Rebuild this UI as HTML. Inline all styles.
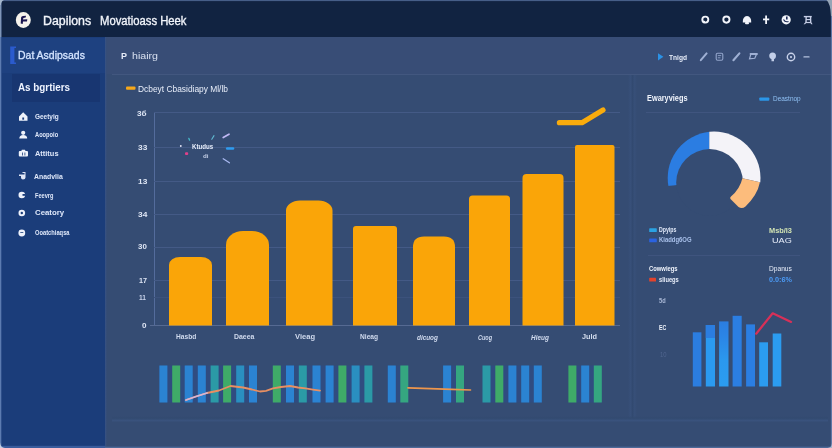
<!DOCTYPE html>
<html>
<head>
<meta charset="utf-8">
<style>
html,body{margin:0;padding:0;}
body{width:832px;height:448px;overflow:hidden;background:#354c73;font-family:"Liberation Sans",sans-serif;position:relative;}
.abs{position:absolute;}
.t{position:absolute;white-space:nowrap;color:#e8eefa;transform-origin:0 50%;filter:blur(0.35px);}
svg{filter:blur(0.4px);}
#hdr{left:0;top:0;width:832px;height:37px;background:#112341;}
#side{left:0;top:37px;width:105px;height:411px;background:#1b3d7a;}
#main{left:105px;top:37px;width:727px;height:411px;background:#354c73;}
</style>
</head>
<body>
<div id="hdr" class="abs"></div>
<div id="side" class="abs"></div>
<div id="main" class="abs"></div>

<!-- toolbar row -->
<div class="abs" style="left:105px;top:37px;width:727px;height:37px;background:#384d76;"></div>
<div class="abs" style="left:112px;top:73.5px;width:720px;height:1px;background:#42577f;"></div>
<div class="abs" style="left:628px;top:75px;width:9px;height:346px;background:linear-gradient(90deg,rgba(58,84,128,0),#3a537f 30%,#30486f 48%,#30486f 54%,#39527d 70%,rgba(57,82,125,0));opacity:.55"></div>
<div class="abs" style="left:112px;top:416px;width:716px;height:6px;background:linear-gradient(180deg,rgba(50,74,112,0),#324a70 35%,#3a537e 80%,rgba(58,83,126,0));"></div>

<div class="abs" style="left:105px;top:37px;width:2px;height:411px;background:linear-gradient(90deg,#37538a,#354c73);opacity:.8"></div>
<!-- sidebar blocks -->
<div class="abs" style="left:2px;top:38px;width:103px;height:35px;background:#1e4180;"></div>
<div class="abs" style="left:12px;top:74px;width:88px;height:28px;background:#183671;"></div>

<svg class="abs" style="left:0;top:0" width="832" height="448" viewBox="0 0 832 448">
  <!-- gridlines -->
  <g stroke="#445a86" stroke-width="1" fill="none">
    <line x1="154.5" y1="112" x2="154.5" y2="326" stroke="#546c9c"/>
    <line x1="154" y1="112.5" x2="620" y2="112.5"/>
    <line x1="154" y1="147.5" x2="620" y2="147.5"/>
    <line x1="154" y1="181.5" x2="620" y2="181.5"/>
    <line x1="154" y1="214.5" x2="620" y2="214.5"/>
    <line x1="154" y1="247.5" x2="620" y2="247.5"/>
    <line x1="154" y1="280.5" x2="620" y2="280.5"/>
    <line x1="154" y1="297.5" x2="620" y2="297.5" stroke="#3c527c"/>
    <line x1="150" y1="325.5" x2="620" y2="325.5" stroke="#566a92"/>
  </g>
  <!-- bars -->
  <g fill="#faa508">
    <path d="M169 325.5V265A11 8 0 0 1 180 257H201A11 8 0 0 1 212 265V325.5Z"/>
    <path d="M226 325.5V245A17 14 0 0 1 243 231H252A17 14 0 0 1 269 245V325.5Z"/>
    <path d="M286 325.5V210.500A14 10 0 0 1 300 200.500H318.500A14 10 0 0 1 332.500 210.500V325.5Z"/>
    <path d="M353 325.5V229Q353 226 356 226H394Q397 226 397 229V325.5Z"/>
    <path d="M413 325.5V247Q413 236.500 424 236.500H444Q455 236.500 455 247V325.5Z"/>
    <path d="M469 325.5V199Q469 195.500 472.500 195.500H506.500Q510 195.500 510 199V325.5Z"/>
    <path d="M522.500 325.5V178Q522.500 174 526.500 174H559.500Q563.500 174 563.500 178V325.5Z"/>
    <path d="M575 325.5V147Q575 145 577 145H612.500Q614.500 145 614.500 147V325.5Z"/>
  </g>
  <!-- arrow -->
  <path d="M559.400 122.700H582L603 110" stroke="#f9ab0c" stroke-width="5.200" fill="none" stroke-linecap="round" stroke-linejoin="round"/>
  <!-- legend marker -->
  <rect x="126" y="86.500" width="9.500" height="3.200" rx="1" fill="#f7a81a"/>

  <!-- confetti -->
  <g stroke-linecap="round" fill="none">
    <circle cx="180.800" cy="146" r="0.9" fill="#e8e8f8"/>
    <rect x="185" y="152.300" width="3.200" height="2.800" rx="1" fill="#e0408a"/>
    <path d="M188.800 138.300L189.600 140.200" stroke="#45b8c8" stroke-width="1.300"/>
    <path d="M211.800 139.300L214 135.600" stroke="#5fb8d0" stroke-width="1.100"/>
    <path d="M223.200 137.500L229 134.200" stroke="#c0b8f4" stroke-width="1.700"/>
    <path d="M227.200 148.500H233" stroke="#2e9cf0" stroke-width="2.600"/>
    <path d="M223.200 158.800L229.400 162.800" stroke="#a8b8f0" stroke-width="1.300"/>
  </g>

  <!-- strip chart -->
  <g fill="#304c80"><rect x="159" y="365.500" width="98" height="37"/><rect x="272.500" y="365.500" width="100" height="37"/><rect x="387.500" y="365.500" width="21" height="37"/><rect x="443" y="365.500" width="21" height="37"/><rect x="482.500" y="365.500" width="59" height="37"/><rect x="568.500" y="365.500" width="33.500" height="37"/></g>
  <g><rect x="159.4" y="365.5" width="8" height="37" fill="#2b83d2"/><rect x="172.2" y="365.5" width="8" height="37" fill="#3fab68"/><rect x="184.7" y="365.5" width="8" height="37" fill="#2b83d2"/><rect x="197.8" y="365.5" width="8" height="37" fill="#2b83d2"/><rect x="210.6" y="365.5" width="8" height="37" fill="#2b9aa6"/><rect x="223.1" y="365.5" width="8" height="37" fill="#3fab68"/><rect x="236.2" y="365.5" width="8" height="37" fill="#2a8fc0"/><rect x="249.0" y="365.5" width="8" height="37" fill="#2b83d2"/><rect x="272.8" y="365.5" width="8" height="37" fill="#3fab68"/><rect x="286.0" y="365.5" width="8" height="37" fill="#2b83d2"/><rect x="298.8" y="365.5" width="8" height="37" fill="#2b9aa6"/><rect x="312.5" y="365.5" width="8" height="37" fill="#2b83d2"/><rect x="325.6" y="365.5" width="8" height="37" fill="#2b83d2"/><rect x="338.4" y="365.5" width="8" height="37" fill="#3fab68"/><rect x="351.6" y="365.5" width="8" height="37" fill="#2a8fc0"/><rect x="364.4" y="365.5" width="8" height="37" fill="#2b9aa6"/><rect x="387.8" y="365.5" width="8" height="37" fill="#2b83d2"/><rect x="400.3" y="365.5" width="8" height="37" fill="#35a680"/><rect x="443.1" y="365.5" width="8" height="37" fill="#2b83d2"/><rect x="456.0" y="365.5" width="8" height="37" fill="#35a680"/><rect x="482.5" y="365.5" width="8" height="37" fill="#2b9aa6"/><rect x="495.3" y="365.5" width="8" height="37" fill="#3fab68"/><rect x="508.4" y="365.5" width="8" height="37" fill="#2b83d2"/><rect x="521.2" y="365.5" width="8" height="37" fill="#2b83d2"/><rect x="533.8" y="365.5" width="8" height="37" fill="#2b83d2"/><rect x="568.4" y="365.5" width="8" height="37" fill="#3fab68"/><rect x="581.2" y="365.5" width="8" height="37" fill="#2b83d2"/><rect x="593.8" y="365.5" width="8" height="37" fill="#35a680"/></g>
  <path d="M186 400L196 396.500L207 393L219 390.500L230.500 386L243 387.500L252 389.500L260 391.500L266 390.800L273 388.400L281 387L290 386L298 387.500L305.500 388.400L313 389.600L320 390.600" stroke="#e88f62" stroke-width="1.800" fill="none" stroke-linejoin="round" stroke-linecap="round"/>
  <path d="M186 400L196 396.500L207 393" stroke="#d4b4d8" stroke-width="1.800" fill="none" stroke-linecap="round"/>
  <path d="M408 387.800L430 388.600L452 389.400L470.500 390" stroke="#ee964c" stroke-width="1.700" fill="none" stroke-linecap="round"/>

  <!-- donut -->
  <defs><clipPath id="oc"><circle cx="714.100" cy="178" r="46.400"/></clipPath></defs>
  <g>
    <path d="M709.500 181 L709.300 125 L650 125 L650 187.300 L673 185.400 Z" fill="#2b7de2" clip-path="url(#oc)"/>
    <path d="M709.300 160 L709.300 125 L780 125 L780 186.900 L742.400 178.300 L720 173.200 Z" fill="#f4f3f8" clip-path="url(#oc)"/>
    <circle cx="709.600" cy="182.500" r="33.400" fill="#354c73"/>
    <path d="M759.900 182.300Q757.500 195 745.500 206.400Q742 209.500 738.500 207L730.500 199Q729.500 197.800 731 196.500Q740 189 742.400 178.300Z" fill="#fcbc7c"/>
  </g>

  <!-- right legends markers -->
  <rect x="759.300" y="97.500" width="10" height="3.200" rx="0.800" fill="#2b96e8"/>
  <rect x="649.200" y="228.300" width="7.600" height="3.800" rx="0.600" fill="#2ba2e2"/>
  <rect x="649.200" y="238.500" width="7.600" height="3.800" rx="0.600" fill="#2b62e0"/>
  <rect x="649.200" y="277.800" width="6.800" height="3.800" rx="0.600" fill="#e2432c"/>
  <line x1="646" y1="112.500" x2="800" y2="112.500" stroke="#40557f" stroke-width="1"/>
  <line x1="648" y1="255.500" x2="800" y2="255.500" stroke="#3f547e" stroke-width="1"/>

  <!-- small bar chart -->
  <g>
    <rect x="692.800" y="332.300" width="8.600" height="54.200" fill="#2b7de0"/>
    <rect x="705.800" y="325" width="9.200" height="61.500" fill="#2b9af0"/>
    <rect x="705.800" y="325" width="9.200" height="13" fill="#2b7de0"/>
    <rect x="719.100" y="321.400" width="9.400" height="65.100" fill="url(#g3)"/>
    <rect x="732.600" y="315.800" width="9.100" height="70.700" fill="#2b7ee2"/>
    <rect x="746.100" y="324.400" width="8.900" height="62.100" fill="#2b7ee2"/>
    <rect x="759.200" y="342.300" width="8.800" height="44.200" fill="#2b9cf0"/>
    <rect x="772.700" y="333.500" width="8.600" height="53" fill="#2b9cf0"/>
  </g>
  <defs><linearGradient id="g3" x1="0" y1="0" x2="0" y2="1"><stop offset="0" stop-color="#2b7de0"/><stop offset="0.250" stop-color="#2b86e6"/><stop offset="0.600" stop-color="#2b98ee"/><stop offset="1" stop-color="#2b9cf0"/></linearGradient></defs>
  <path d="M756.200 333.700L772.700 313.300L791.100 321.900" stroke="#d83058" stroke-width="2.200" fill="none" stroke-linejoin="round" stroke-linecap="round"/>

  <!-- header logo -->
  <ellipse cx="23.300" cy="20" rx="7.500" ry="7.900" fill="#f6f3ec"/>
  <path d="M20.700 23.600L21.100 17.600Q21.300 16.200 23 16L26 15.700L25.700 17.500L23.300 17.900L23.100 19.600L27.300 19.300L27 21.400L23 21.600L22.700 23.900Z" fill="#1b1650"/>

  <!-- header right icons -->
  <g fill="none" stroke="#f2f4fa" stroke-width="1.900">
    <circle cx="705.300" cy="19.600" r="3"/>
    <circle cx="726.400" cy="19.600" r="3.100"/>
  </g>
  <g fill="#f2f4fa">
    <circle cx="704" cy="22" r="1.300"/>
    <path d="M742.800 22.500Q742.500 16.500 747 16Q751.500 16.500 751.200 22.500Z"/>
    <rect x="745" y="22" width="4" height="2.200" rx="1"/>
    <rect x="765.200" y="15.500" width="1.800" height="8.500"/>
    <rect x="763" y="18.500" width="6.200" height="1.800"/>
    <circle cx="786.200" cy="19.800" r="4.600"/>
    <g fill="#c6cee6"><rect x="803.800" y="15.900" width="7.900" height="1.400"/>
    <rect x="806" y="19" width="4.800" height="1.200"/>
    <rect x="805.800" y="21.900" width="5" height="1.200"/>
    <path d="M805.500 16H806.900L806.700 22.500L805 24.300H803.600L805.300 22.300Z"/>
    <path d="M809.800 16H811.200L811.400 22.300L812.600 24.300H811.200L810 22.500Z"/></g>
  </g>
  <path d="M783.500 19.500Q785 22.500 788.500 21.500" stroke="#1c2a55" stroke-width="1.200" fill="none"/>
  <rect x="786" y="16.500" width="1.600" height="3" fill="#1c2a55"/>

  <!-- toolbar icons -->
  <path d="M658 53.200V60.400L663.400 56.800Z" fill="#2b92e6"/>
  <g stroke="#9fb0d4" fill="none" stroke-linecap="round">
    <path d="M700.800 60.200L706.600 53.400" stroke-width="2"/>
    <rect x="716.200" y="53.200" width="6.600" height="7" rx="1.400" stroke-width="1.100" stroke="#93a5cb"/>
    <path d="M718.200 55.600H720.800M718.200 57.800H720" stroke-width="0.900" stroke="#93a5cb"/>
    <path d="M733.400 60.200L739.400 53.400" stroke-width="2.100"/>
    <path d="M749.500 58.800L750.800 54.300H756.500L754.800 58.300Z" stroke-width="1.200"/>
    <path d="M750.500 54H757" stroke-width="1.800"/>
    <path d="M804 56.900H809" stroke-width="1.300" stroke="#b4c2de"/>
  </g>
  <path d="M769.200 56Q769.200 52.500 772.600 52.500Q776 52.500 776 56Q776 58.300 774 59.300V61.300H771.500V59.300Q769.200 58.300 769.200 56Z" fill="#c2cee8"/>
  <circle cx="791" cy="57" r="3.700" fill="none" stroke="#c8d2ea" stroke-width="1.400"/>
  <circle cx="791" cy="57" r="1.100" fill="#c8d2ea"/>

  <!-- sidebar accent -->
  <path d="M10.200 46.500H16V48H14.400V62.500H16V64H10.200Z" fill="#2b5bcd"/>

  <!-- sidebar icons -->
  <g fill="#eef2fb">
    <path d="M19 116.500L23.200 112.300L27.500 116.500V120.800H19Z"/>
    <circle cx="23.200" cy="132.800" r="2.100"/>
    <path d="M19.300 138.500Q19.300 135 23.200 135Q27.200 135 27.200 138.500Z"/>
    <rect x="18.800" y="151" width="9.200" height="5.600" rx="1"/>
    <rect x="21.500" y="149.800" width="3.800" height="1.800" rx="0.500"/>
    <path d="M19 174.500H24.500V173H22.500V172H25.500V177.500Q25.500 179.500 23 179.500Q21 179.500 21 177.500V176H19Z" fill="#dfe6f6"/>
    <circle cx="21.800" cy="195" r="3.300"/>
    <circle cx="21.800" cy="213" r="3.300"/>
    <circle cx="21.800" cy="233" r="3.400"/>
  </g>
  <g fill="#1b3d7a">
    <rect x="22.300" y="117.500" width="1.800" height="2.200"/>
    <rect x="22" y="152.500" width="0.800" height="3"/>
    <rect x="24.500" y="152.500" width="0.800" height="3"/>
    <rect x="22.500" y="194" width="2.800" height="1.800"/>
    <circle cx="21.800" cy="213" r="1.200"/>
    <path d="M20.300 232.500H23.300" stroke="#1b3d7a" stroke-width="0.800"/>
  </g>
</svg>

<div class="t" style="left:42.8px;top:13.5px;font-size:12.5px;line-height:15.0px;font-weight:400;color:#f2f5fb;transform:scaleX(0.989);-webkit-text-stroke:0.35px #f2f5fb;">Dapilons</div>
<div class="t" style="left:99.8px;top:13.5px;font-size:12.5px;line-height:15.0px;font-weight:400;color:#f2f5fb;transform:scaleX(0.902);-webkit-text-stroke:0.35px #f2f5fb;">Movatioass Heek</div>
<div class="t" style="left:17.5px;top:49.2px;font-size:10.5px;line-height:12.6px;font-weight:400;color:#d4e4ff;transform:scaleX(0.997);-webkit-text-stroke:0.3px #d4e4ff;">Dat Asdipsads</div>
<div class="t" style="left:17.5px;top:81.5px;font-size:10px;line-height:12.0px;font-weight:700;color:#eef3ff;transform:scaleX(0.985);">As bgrtiers</div>
<div class="t" style="left:34.8px;top:112.0px;font-size:8px;line-height:9.6px;font-weight:700;color:#dfe8fa;transform:scaleX(0.808);">Geetyig</div>
<div class="t" style="left:34.8px;top:130.2px;font-size:8px;line-height:9.6px;font-weight:700;color:#dfe8fa;transform:scaleX(0.715);">Aoopoio</div>
<div class="t" style="left:35.0px;top:148.5px;font-size:8px;line-height:9.6px;font-weight:700;color:#dfe8fa;transform:scaleX(0.928);">Attitus</div>
<div class="t" style="left:34.0px;top:171.7px;font-size:8px;line-height:9.6px;font-weight:700;color:#dfe8fa;transform:scaleX(0.861);">Anadvlia</div>
<div class="t" style="left:34.5px;top:190.6px;font-size:8px;line-height:9.6px;font-weight:700;color:#dfe8fa;transform:scaleX(0.701);">Feevrg</div>
<div class="t" style="left:34.5px;top:208.4px;font-size:8px;line-height:9.6px;font-weight:700;color:#dfe8fa;transform:scaleX(0.977);">Ceatory</div>
<div class="t" style="left:34.5px;top:228.4px;font-size:8px;line-height:9.6px;font-weight:700;color:#dfe8fa;transform:scaleX(0.719);">Ooatchiaqsa</div>
<div class="t" style="left:121.0px;top:50.6px;font-size:9px;line-height:10.8px;font-weight:700;color:#e6ecf8;transform:scaleX(0.997);">P</div>
<div class="t" style="left:132.0px;top:51.2px;font-size:8.5px;line-height:10.2px;font-weight:400;color:#d8e0f0;transform:scaleX(1.250);">hiairg</div>
<div class="t" style="left:138.0px;top:82.5px;font-size:9.5px;line-height:11.4px;font-weight:400;color:#e8eefa;transform:scaleX(0.883);">Dcbeyt Cbasidiapy Ml/lb</div>
<div class="t" style="left:137.4px;top:108.6px;font-size:8px;line-height:9.6px;font-weight:700;color:#dfe6f5;transform:scaleX(1.022);">3б</div>
<div class="t" style="left:137.7px;top:142.6px;font-size:8px;line-height:9.6px;font-weight:700;color:#dfe6f5;transform:scaleX(1.044);">33</div>
<div class="t" style="left:137.7px;top:176.6px;font-size:8px;line-height:9.6px;font-weight:700;color:#dfe6f5;transform:scaleX(1.044);">13</div>
<div class="t" style="left:137.7px;top:209.8px;font-size:8px;line-height:9.6px;font-weight:700;color:#dfe6f5;transform:scaleX(1.044);">34</div>
<div class="t" style="left:137.7px;top:242.4px;font-size:8px;line-height:9.6px;font-weight:700;color:#dfe6f5;transform:scaleX(0.988);">30</div>
<div class="t" style="left:138.5px;top:275.5px;font-size:8px;line-height:9.6px;font-weight:700;color:#dfe6f5;transform:scaleX(0.898);">17</div>
<div class="t" style="left:139.0px;top:293.0px;font-size:8px;line-height:9.6px;font-weight:700;color:#c8d2ea;transform:scaleX(0.827);">11</div>
<div class="t" style="left:141.5px;top:320.7px;font-size:8px;line-height:9.6px;font-weight:700;color:#dfe6f5;transform:scaleX(1.011);">0</div>
<div class="t" style="left:176.0px;top:332.3px;font-size:7.5px;line-height:9.0px;font-weight:700;color:#d0daee;transform:scaleX(0.886);">Hasbd</div>
<div class="t" style="left:234.0px;top:332.3px;font-size:7.5px;line-height:9.0px;font-weight:700;color:#d0daee;transform:scaleX(0.923);">Daeea</div>
<div class="t" style="left:295.0px;top:332.3px;font-size:7.5px;line-height:9.0px;font-weight:700;color:#d0daee;transform:scaleX(1.006);">Vieag</div>
<div class="t" style="left:359.7px;top:332.3px;font-size:7.5px;line-height:9.0px;font-weight:700;color:#d0daee;transform:scaleX(0.886);">Nieag</div>
<div class="t" style="left:416.6px;top:332.5px;font-size:7.5px;line-height:9.0px;font-weight:700;color:#d0daee;transform:scaleX(0.850);font-style:italic;">dicuog</div>
<div class="t" style="left:478.4px;top:332.5px;font-size:7.5px;line-height:9.0px;font-weight:700;color:#d0daee;transform:scaleX(0.735);font-style:italic;">Cuog</div>
<div class="t" style="left:530.6px;top:332.5px;font-size:7.5px;line-height:9.0px;font-weight:700;color:#d0daee;transform:scaleX(0.854);font-style:italic;">Hieug</div>
<div class="t" style="left:582.0px;top:332.2px;font-size:8px;line-height:9.6px;font-weight:700;color:#d5deef;transform:scaleX(0.912);">Juld</div>
<div class="t" style="left:192.0px;top:142.5px;font-size:7px;line-height:8.4px;font-weight:700;color:#e8eefa;transform:scaleX(0.879);">Ktudus</div>
<div class="t" style="left:203.0px;top:152.7px;font-size:6px;line-height:7.2px;font-weight:700;color:#c0cce4;transform:scaleX(1.029);">di</div>
<div class="t" style="left:669.4px;top:52.5px;font-size:7.5px;line-height:9.0px;font-weight:700;color:#e8eefa;transform:scaleX(0.881);">Tnigd</div>
<div class="t" style="left:646.8px;top:93.4px;font-size:9px;line-height:10.8px;font-weight:700;color:#f0f4fc;transform:scaleX(0.818);">Ewaryviegs</div>
<div class="t" style="left:772.7px;top:94.4px;font-size:8px;line-height:9.6px;font-weight:400;color:#8fc0f4;transform:scaleX(0.809);">Deastnop</div>
<div class="t" style="left:659.4px;top:226.0px;font-size:7px;line-height:8.4px;font-weight:700;color:#e0e8f8;transform:scaleX(0.745);">Dpyips</div>
<div class="t" style="left:768.7px;top:225.7px;font-size:7.5px;line-height:9.0px;font-weight:700;color:#d2e4b4;transform:scaleX(0.981);">Msb/l3</div>
<div class="t" style="left:659.4px;top:236.2px;font-size:7px;line-height:8.4px;font-weight:700;color:#a8c0ea;transform:scaleX(0.846);">Kiaddg6OG</div>
<div class="t" style="left:771.8px;top:235.6px;font-size:8px;line-height:9.6px;font-weight:400;color:#e8eefa;transform:scaleX(1.142);">UAG</div>
<div class="t" style="left:649.2px;top:263.8px;font-size:8px;line-height:9.6px;font-weight:700;color:#f0f4fc;transform:scaleX(0.731);">Cowwiegs</div>
<div class="t" style="left:768.7px;top:263.8px;font-size:8px;line-height:9.6px;font-weight:400;color:#e8eefa;transform:scaleX(0.830);">Dpanus</div>
<div class="t" style="left:659.4px;top:275.2px;font-size:7.5px;line-height:9.0px;font-weight:700;color:#e8eefa;transform:scaleX(0.766);">sliuegs</div>
<div class="t" style="left:768.7px;top:274.9px;font-size:8px;line-height:9.6px;font-weight:700;color:#4c9cf8;transform:scaleX(0.903);">0.0:6%</div>
<div class="t" style="left:659.2px;top:297.3px;font-size:7px;line-height:8.4px;font-weight:700;color:#a9b8d6;transform:scaleX(0.808);">5d</div>
<div class="t" style="left:659.2px;top:322.5px;font-size:8px;line-height:9.6px;font-weight:700;color:#f0f4fc;transform:scaleX(0.656);">EC</div>
<div class="t" style="left:659.5px;top:350.8px;font-size:7px;line-height:8.4px;font-weight:400;color:#50658f;transform:scaleX(0.834);">10</div>

<!-- window frame edges -->
<svg class="abs" style="left:0;top:0;filter:blur(0.5px)" width="832" height="448" viewBox="0 0 832 448">
  <rect x="0" y="0" width="832" height="1.100" fill="#465e88"/>
  <rect x="0" y="0" width="1.300" height="448" fill="#5c7bb0"/>
  <rect x="0" y="0" width="1.300" height="37" fill="#7f96b8"/>
  <rect x="830.900" y="10" width="1.100" height="438" fill="#5f78a6"/>
  <rect x="0" y="445.800" width="105" height="2.200" fill="#3a5c9c"/>
  <rect x="105" y="446.600" width="727" height="1.400" fill="#4d6896"/>
  <path d="M0 0H4Q1.200 1.200 0.800 5H0Z" fill="#a4b6cc"/>
  <path d="M826.500 0Q830.500 3.500 831 16H832V0Z" fill="#95a4b6"/>
  <path d="M0 442.500Q0.500 447.500 5 448H0Z" fill="#c4d0e2"/>
  <path d="M832 443.500Q831.500 447.500 827.500 448H832Z" fill="#a9b6cd"/>
</svg>
</body>
</html>
